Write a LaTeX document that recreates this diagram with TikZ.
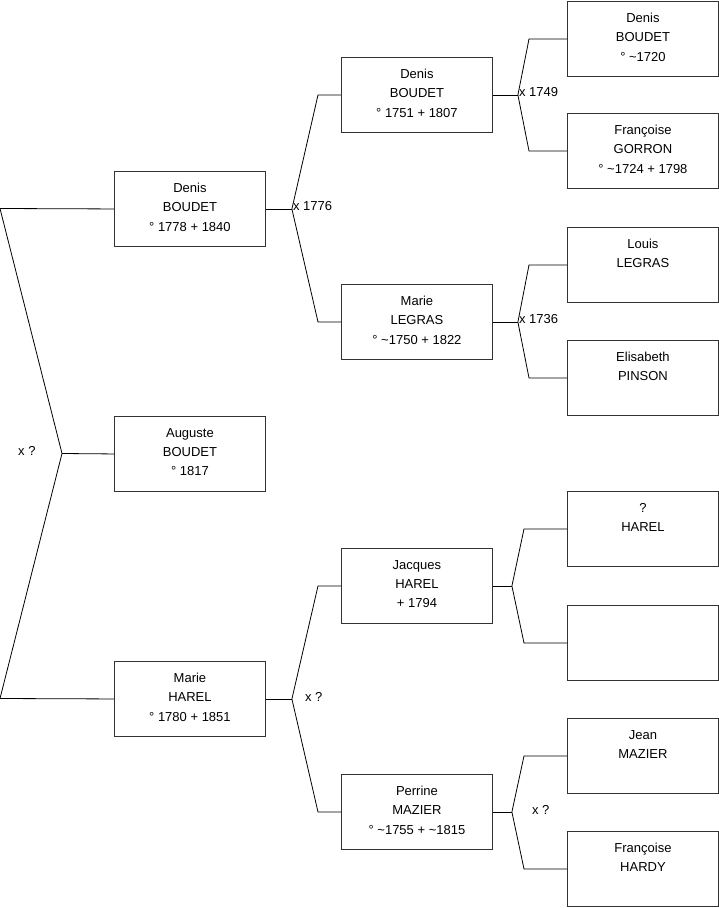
\documentclass[tikz,border=0pt]{standalone}
\usepackage{fontspec}
\setmainfont{Liberation Sans}
\usetikzlibrary{calc, positioning}

\begin{document}
\begin{tikzpicture}[x=1pt, y=-1pt,
  person/.style={draw=black!80, line width=0.9pt, minimum width=151pt, minimum height=75pt,
    anchor=north west, inner sep=0pt},
  who/.style={anchor=north, align=center, inner sep=0pt, yshift=-12pt,
    font=\fontsize{13}{19.2}\selectfont},
  link/.style={draw=black, line width=0.8pt},
  wed/.style={anchor=west, inner sep=1pt, yshift=2.5pt, font=\fontsize{13}{15}\selectfont}]
  \useasboundingbox (0,0) rectangle (719,908);

  % --- Generation 1 ---
  \node[person, label={[who]north:Denis\\BOUDET\\° 1778 + 1840}] (denis1) at (114,171) {};
  \node[person, label={[who]north:Auguste\\BOUDET\\° 1817}] (auguste) at (114,416) {};
  \node[person, label={[who]north:Marie\\HAREL\\° 1780 + 1851}] (marie1) at (114,661) {};

  % --- Generation 2 ---
  \node[person, label={[who]north:Denis\\BOUDET\\° 1751 + 1807}] (denis2) at (341,57) {};
  \node[person, label={[who]north:Marie\\LEGRAS\\° \textasciitilde1750 + 1822}] (legras2) at (341,284) {};
  \node[person, label={[who]north:Jacques\\HAREL\\+ 1794}] (jacques2) at (341,548) {};
  \node[person, label={[who]north:Perrine\\MAZIER\\° \textasciitilde1755 + \textasciitilde1815}] (perrine2) at (341,774) {};

  % --- Generation 3 ---
  \node[person, label={[who]north:Denis\\BOUDET\\° \textasciitilde1720}] (denis3) at (567,1) {};
  \node[person, label={[who]north:Françoise\\GORRON\\° \textasciitilde1724 + 1798}] (gorron3) at (567,113) {};
  \node[person, label={[who]north:Louis\\LEGRAS}] (louis3) at (567,227) {};
  \node[person, label={[who]north:Elisabeth\\PINSON}] (pinson3) at (567,340) {};
  \node[person, label={[who]north:?\\HAREL}] (harel3) at (567,491) {};
  \node[person] (unknown3) at (567,605) {};
  \node[person, label={[who]north:Jean\\MAZIER}] (jean3) at (567,718) {};
  \node[person, label={[who]north:Françoise\\HARDY}] (hardy3) at (567,831) {};

  % --- Parents of Auguste ---
  \coordinate (top0) at (0,208.5);
  \coordinate (bot0) at (0,698.5);
  \coordinate (fork0) at (62,453.5);
  \draw[link] (denis1.west) -- (top0) -- (fork0) -- (bot0) -- (marie1.west);
  \draw[link] (fork0) -- (auguste.west);
  \node[wed] (wed0) at (17,453.5) {x ?};

  % --- Parents of Denis ---
  \draw[link] (denis1.east) -- ++(26,0) coordinate (fork1);
  \draw[link] (fork1) -- ([xshift=-23pt]denis2.west) -- (denis2.west);
  \draw[link] (fork1) -- ([xshift=-23pt]legras2.west) -- (legras2.west);
  \node[wed] (wed1) at (fork1) {x 1776};

  % --- Parents of Marie ---
  \draw[link] (marie1.east) -- ++(26,0) coordinate (fork2);
  \draw[link] (fork2) -- ([xshift=-23pt]jacques2.west) -- (jacques2.west);
  \draw[link] (fork2) -- ([xshift=-23pt]perrine2.west) -- (perrine2.west);
  \node[wed] (wed2) at ([xshift=12pt, yshift=-1pt]fork2) {x ?};

  % --- Generation 3 forks ---
  \draw[link] (denis2.east) -- ++(25,0) coordinate (fork3);
  \draw[link] (fork3) -- ([xshift=-38pt]denis3.west) -- (denis3.west);
  \draw[link] (fork3) -- ([xshift=-38pt]gorron3.west) -- (gorron3.west);
  \node[wed] (wed3) at (fork3) {x 1749};

  \draw[link] (legras2.east) -- ++(25,0) coordinate (fork4);
  \draw[link] (fork4) -- ([xshift=-38pt]louis3.west) -- (louis3.west);
  \draw[link] (fork4) -- ([xshift=-38pt]pinson3.west) -- (pinson3.west);
  \node[wed] (wed4) at (fork4) {x 1736};

  \draw[link] (jacques2.east) -- ++(19,0) coordinate (fork5);
  \draw[link] (fork5) -- ([xshift=-43pt]harel3.west) -- (harel3.west);
  \draw[link] (fork5) -- ([xshift=-43pt]unknown3.west) -- (unknown3.west);

  \draw[link] (perrine2.east) -- ++(19,0) coordinate (fork6);
  \draw[link] (fork6) -- ([xshift=-43pt]jean3.west) -- (jean3.west);
  \draw[link] (fork6) -- ([xshift=-43pt]hardy3.west) -- (hardy3.west);
  \node[wed] (wed6) at ([xshift=19pt, yshift=-1pt]fork6) {x ?};
\end{tikzpicture}
\end{document}
